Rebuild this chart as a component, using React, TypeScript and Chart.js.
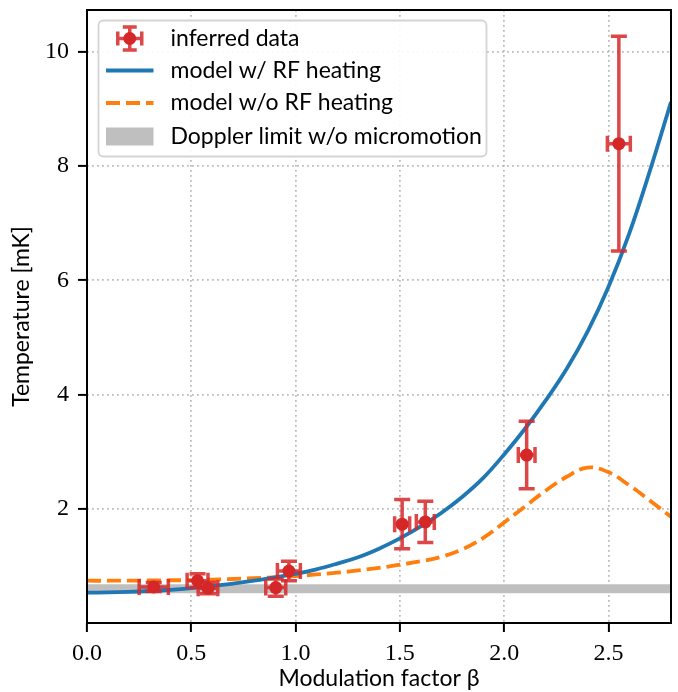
import React, { useEffect, useRef } from "react";
import { Chart, registerables } from "chart.js";

Chart.register(...registerables);

// ---- data ----
const pointX = [0.32, 0.53, 0.58, 0.905, 0.968, 1.511, 1.622, 2.108, 2.55];
const pointY = [0.63, 0.74, 0.61, 0.62, 0.91, 1.73, 1.77, 2.94, 8.39];
const pointXErr = [0.07, 0.05, 0.047, 0.048, 0.055, 0.036, 0.043, 0.04, 0.055];
const pointYErr = [0.08, 0.12, 0.1, 0.15, 0.17, 0.43, 0.36, 0.59, 1.88];

const modelX = [0, 0.1, 0.2, 0.3, 0.4, 0.5, 0.6, 0.7, 0.8, 0.9, 1.0, 1.1, 1.2, 1.3, 1.4, 1.5, 1.6, 1.7, 1.8, 1.9, 2.0, 2.1, 2.2, 2.3, 2.4, 2.5, 2.6, 2.7, 2.8];
const withRF = [0.53, 0.535, 0.545, 0.56, 0.58, 0.61, 0.65, 0.69, 0.74, 0.8, 0.86, 0.94, 1.04, 1.15, 1.3, 1.48, 1.69, 1.93, 2.21, 2.54, 2.95, 3.4, 3.9, 4.45, 5.1, 5.88, 6.82, 7.93, 9.12];
const withoutRF = [0.74, 0.74, 0.742, 0.745, 0.748, 0.75, 0.76, 0.77, 0.785, 0.8, 0.82, 0.85, 0.88, 0.92, 0.965, 1.02, 1.08, 1.16, 1.29, 1.49, 1.76, 2.04, 2.32, 2.56, 2.72, 2.64, 2.41, 2.14, 1.86];

const dopplerX = [0, 2.8];
const dopplerY = [0.6, 0.6];

const xTicks = [0, 0.5, 1.0, 1.5, 2.0, 2.5];
const yTicks = [2, 4, 6, 8, 10];

const legendLabels = [
  "inferred data",
  "model w/ RF heating",
  "model w/o RF heating",
  "Doppler limit w/o micromotion",
];

// ---- styles ----
const RED = "#d62728";
const ERR = "rgba(214,39,40,0.85)";
const BLUE = "#1f77b4";
const ORANGE = "#ff7f0e";
const GRAY = "#bfbfbf";
const SANS = "Lato, 'DejaVu Sans', sans-serif";
const SERIF = "'Liberation Serif', 'DejaVu Serif', serif";
const FONT_SIZE = 23;
const TICK_SIZE = 24;
const LINE_W = 3.8;
const DASH = [14, 6];

function drawErrorSymbol(ctx: CanvasRenderingContext2D, cx: number, cy: number, x0: number, x1: number, y0: number, y1: number, cap: number) {
  ctx.beginPath();
  ctx.moveTo(x0, cy); ctx.lineTo(x1, cy);
  ctx.moveTo(cx, y0); ctx.lineTo(cx, y1);
  ctx.moveTo(x0, cy - cap); ctx.lineTo(x0, cy + cap);
  ctx.moveTo(x1, cy - cap); ctx.lineTo(x1, cy + cap);
  ctx.moveTo(cx - cap, y0); ctx.lineTo(cx + cap, y0);
  ctx.moveTo(cx - cap, y1); ctx.lineTo(cx + cap, y1);
  ctx.stroke();
}

const errorBarPlugin = {
  id: "errorBars",
  beforeDatasetDraw(chart: any, args: any) {
    if (args.index !== 0) return;
    const { ctx, scales } = chart;
    const xs = scales.x, ys = scales.y;
    ctx.save();
    ctx.strokeStyle = ERR;
    ctx.lineWidth = 3.5;
    ctx.lineCap = "butt";
    for (let i = 0; i < pointX.length; i++) {
      const cx = xs.getPixelForValue(pointX[i]);
      const cy = ys.getPixelForValue(pointY[i]);
      const x0 = xs.getPixelForValue(pointX[i] - pointXErr[i]);
      const x1 = xs.getPixelForValue(pointX[i] + pointXErr[i]);
      const y0 = ys.getPixelForValue(pointY[i] - pointYErr[i]);
      const y1 = ys.getPixelForValue(pointY[i] + pointYErr[i]);
      drawErrorSymbol(ctx, cx, cy, x0, x1, y0, y1, 8);
    }
    ctx.restore();
  },
};

const framePlugin = {
  id: "frame",
  afterDatasetsDraw(chart: any) {
    const { ctx, chartArea: a } = chart;
    ctx.save();
    ctx.strokeStyle = "#000";
    ctx.lineWidth = 2;
    ctx.strokeRect(a.left, a.top, a.right - a.left, a.bottom - a.top);
    ctx.restore();
  },
};

const legendPlugin = {
  id: "customLegend",
  afterDraw(chart: any) {
    const { ctx, chartArea: a } = chart;
    const left = a.left + 11.5;
    const top = a.top + 10.5;
    const w = 388;
    const h = 136;
    const r = 5;
    ctx.save();
    ctx.beginPath();
    ctx.moveTo(left + r, top);
    ctx.lineTo(left + w - r, top);
    ctx.arcTo(left + w, top, left + w, top + r, r);
    ctx.lineTo(left + w, top + h - r);
    ctx.arcTo(left + w, top + h, left + w - r, top + h, r);
    ctx.lineTo(left + r, top + h);
    ctx.arcTo(left, top + h, left, top + h - r, r);
    ctx.lineTo(left, top + r);
    ctx.arcTo(left, top, left + r, top, r);
    ctx.closePath();
    ctx.fillStyle = "rgba(255,255,255,0.9)";
    ctx.fill();
    ctx.strokeStyle = "#d4d4d4";
    ctx.lineWidth = 1.8;
    ctx.stroke();

    const hx0 = left + 7.5;
    const hx1 = left + 55;
    const hc = (hx0 + hx1) / 2;
    const tx = left + 72;
    const rows = [top + 18, top + 50, top + 82.5, top + 116];

    // row 0: errorbar symbol
    ctx.strokeStyle = ERR;
    ctx.lineWidth = 3.5;
    drawErrorSymbol(ctx, hc, rows[0], hc - 12, hc + 12, rows[0] + 11.5, rows[0] - 11.5, 7);
    ctx.fillStyle = RED;
    ctx.beginPath();
    ctx.arc(hc, rows[0], 6.5, 0, Math.PI * 2);
    ctx.fill();

    // row 1: blue line
    ctx.strokeStyle = BLUE;
    ctx.lineWidth = LINE_W;
    ctx.beginPath();
    ctx.moveTo(hx0, rows[1]); ctx.lineTo(hx1, rows[1]);
    ctx.stroke();

    // row 2: orange dashed
    ctx.strokeStyle = ORANGE;
    ctx.setLineDash(DASH);
    ctx.beginPath();
    ctx.moveTo(hx0, rows[2]); ctx.lineTo(hx1, rows[2]);
    ctx.stroke();
    ctx.setLineDash([]);

    // row 3: gray patch
    ctx.fillStyle = GRAY;
    ctx.fillRect(hx0, rows[3] - 9, hx1 - hx0, 18);

    ctx.fillStyle = "#000";
    ctx.font = `${FONT_SIZE}px ${SANS}`;
    ctx.textBaseline = "middle";
    ctx.textAlign = "left";
    legendLabels.forEach((t, i) => ctx.fillText(t, tx, rows[i]));
    ctx.restore();
  },
};

export default function App() {
  const ref = useRef<HTMLCanvasElement>(null);
  useEffect(() => {
    const canvas = ref.current;
    if (!canvas) return;
    const gridColor = (c: any) =>
      c.tick && c.tick.value === 0 ? "rgba(0,0,0,0)" : "rgba(176,176,176,0.85)";
    const chart = new Chart(canvas, {
      type: "scatter",
      data: {
        datasets: [
          {
            label: legendLabels[0],
            data: pointX.map((x, i) => ({ x, y: pointY[i] })),
            pointRadius: 6.5,
            pointHoverRadius: 6.5,
            backgroundColor: RED,
            borderWidth: 0,
            showLine: false,
            order: 0,
          },
          {
            label: legendLabels[1],
            data: modelX.map((x, i) => ({ x, y: withRF[i] })),
            showLine: true,
            borderColor: BLUE,
            borderWidth: LINE_W,
            pointRadius: 0,
            tension: 0.4,
            clip: 0,
            order: 1,
          },
          {
            label: legendLabels[2],
            data: modelX.map((x, i) => ({ x, y: withoutRF[i] })),
            showLine: true,
            borderColor: ORANGE,
            borderWidth: LINE_W,
            borderDash: DASH,
            pointRadius: 0,
            tension: 0.4,
            clip: 0,
            order: 2,
          },
          {
            label: legendLabels[3],
            data: dopplerX.map((x, i) => ({ x, y: dopplerY[i] })),
            showLine: true,
            borderColor: GRAY,
            borderWidth: 9,
            borderCapStyle: "butt",
            pointRadius: 0,
            clip: 0,
            order: 3,
          },
        ] as any,
      },
      options: {
        animation: false,
        responsive: false,
        events: [],
        layout: { padding: { top: 10, right: 7, left: 0, bottom: 0 } },
        plugins: { legend: { display: false }, tooltip: { enabled: false } },
        scales: {
          x: {
            type: "linear",
            min: 0,
            max: 2.8,
            afterBuildTicks: (s: any) => {
              s.ticks = xTicks.map((v) => ({ value: v }));
            },
            afterFit: (s: any) => {
              s.height = 69;
              s.paddingLeft = 0;
              s.paddingRight = 0;
            },
            ticks: {
              callback: (v: any) => Number(v).toFixed(1),
              font: { family: SERIF, size: TICK_SIZE },
              color: "#000",
              padding: 7,
              maxRotation: 0,
              autoSkip: false,
            },
            grid: {
              color: gridColor,
              lineWidth: 1.8,
              tickColor: "#000",
              tickLength: 9,
              tickWidth: 2,
              tickBorderDash: [],
            },
            border: { display: false, dash: [1.8, 3.2] },
            title: {
              display: true,
              text: "Modulation factor β",
              font: { family: SANS, size: FONT_SIZE },
              color: "#000",
              padding: { top: 0, bottom: 0 },
            },
          },
          y: {
            type: "linear",
            min: 0,
            max: 10.73,
            afterBuildTicks: (s: any) => {
              s.ticks = yTicks.map((v) => ({ value: v }));
            },
            afterFit: (s: any) => {
              s.width = 87;
              s.paddingTop = 0;
              s.paddingBottom = 0;
            },
            ticks: {
              callback: (v: any) => String(v),
              font: { family: SERIF, size: TICK_SIZE },
              color: "#000",
              padding: 9,
              autoSkip: false,
            },
            grid: {
              color: gridColor,
              lineWidth: 1.8,
              tickColor: "#000",
              tickLength: 9,
              tickWidth: 2,
              tickBorderDash: [],
            },
            border: { display: false, dash: [1.8, 3.2] },
            title: {
              display: true,
              text: "Temperature [mK]",
              font: { family: SANS, size: FONT_SIZE },
              color: "#000",
              padding: { top: 8, bottom: 0 },
            },
          },
        },
      },
      plugins: [errorBarPlugin, framePlugin, legendPlugin],
    } as any);
    return () => chart.destroy();
  }, []);

  return (
    <div style={{ position: "fixed", left: 0, top: 0, width: 678, height: 692, background: "#fff" }}>
      <canvas ref={ref} width={678} height={692} style={{ display: "block" }} />
    </div>
  );
}
